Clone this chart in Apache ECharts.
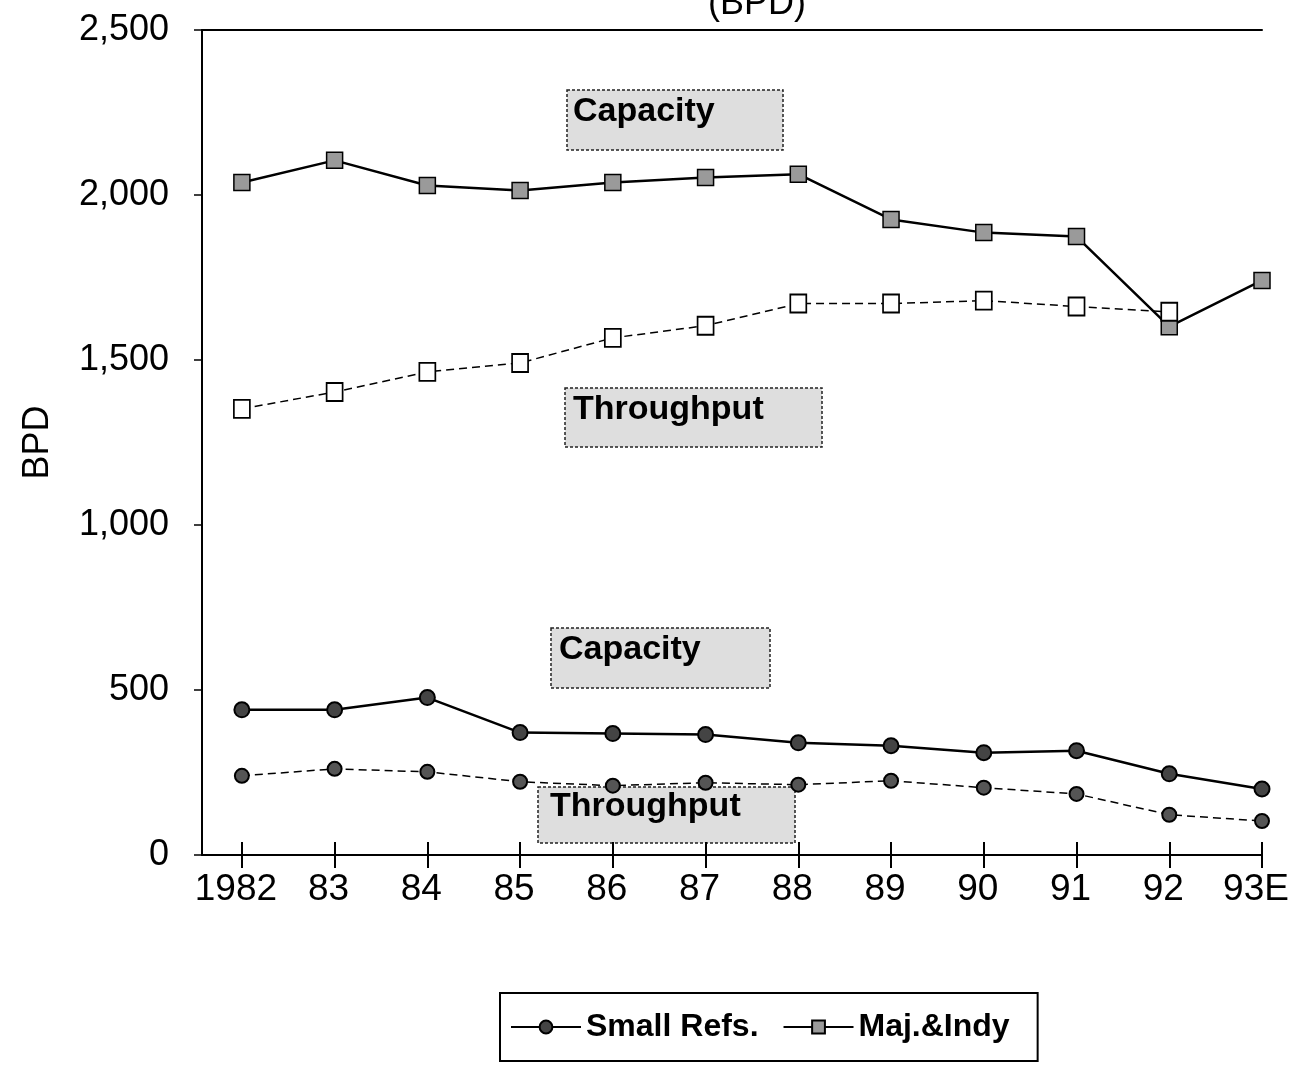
<!DOCTYPE html>
<html>
<head>
<meta charset="utf-8">
<script src="https://cdn.jsdelivr.net/npm/echarts@6/dist/echarts.min.js"></script>
<style>
html,body{margin:0;padding:0;background:#fff;}
#chart{width:1307px;height:1074px;}
</style>
</head>
<body>
<div id="chart"></div>
<script>
var categories = ['1982','83','84','85','86','87','88','89','90','91','92','93E'];
var yTicks = [0, 500, 1000, 1500, 2000, 2500];
var majCapacity   = [2038, 2105, 2029, 2014, 2038, 2053, 2063, 1926, 1886, 1874, 1601, 1741];
var majThroughput = [1352, 1403, 1464, 1491, 1567, 1604, 1671, 1671, 1680, 1662, 1646, null];
var smallCapacity   = [440, 440, 477, 371, 368, 365, 340, 331, 310, 316, 246, 200];
var smallThroughput = [240, 261, 252, 222, 210, 219, 213, 225, 204, 185, 122, 103];

function pts(arr){ return arr.map(function(v,i){ return [i, v]; }); }
var idx = categories.map(function(c,i){ return i; });
var FONT = '"Liberation Sans", Arial, sans-serif';

var chart = echarts.init(document.getElementById('chart'));

function labelBox(x, y, w, h, text, tx){
  return {
    type: 'group', x: x, y: y,
    children: [
      { type: 'rect', shape: {x:0, y:0, width:w, height:h},
        style: { fill: '#dedede', stroke: '#222', lineWidth: 1.5, lineDash: [3,2] } },
      { type: 'text', x: tx, y: h/2 - 8,
        style: { text: text, fill: '#000', font: 'bold 34px ' + FONT, textVerticalAlign: 'middle', textAlign: 'left' } }
    ]
  };
}

var option = {
  backgroundColor: '#fff',
  animation: false,
  grid: { left: 202, right: 45, top: 30, bottom: 219 },
  xAxis: [
    {
      type: 'value', position: 'bottom', min: -0.43, max: 11,
      axisLine: { show: true, onZero: false, lineStyle: { color: '#000', width: 2 } },
      axisTick: { show: true, customValues: idx, length: 13, lineStyle: { color: '#000', width: 2 } },
      axisLabel: { show: true, customValues: idx, margin: 16, color: '#000',
        fontFamily: FONT, fontSize: 37, padding: [0, 12, 0, 0],
        formatter: function(v){ return categories[Math.round(v)]; } },
      splitLine: { show: false }
    },
    {
      type: 'value', position: 'bottom', offset: 0, min: -0.43, max: 11,
      axisLine: { show: false, onZero: false },
      axisTick: { show: true, inside: true, customValues: idx, length: 13, lineStyle: { color: '#000', width: 2 } },
      axisLabel: { show: false },
      splitLine: { show: false }
    },
    {
      type: 'value', position: 'top', min: -0.43, max: 11,
      axisLine: { show: true, onZero: false, lineStyle: { color: '#000', width: 2 } },
      axisTick: { show: false },
      axisLabel: { show: false },
      splitLine: { show: false }
    }
  ],
  yAxis: {
    type: 'value', min: 0, max: 2500, interval: 500, position: 'left',
    name: 'BPD', nameLocation: 'middle', nameGap: 146, nameRotate: 90,
    nameTextStyle: { color: '#000', fontFamily: FONT, fontSize: 36 },
    axisLine: { show: true, onZero: false, lineStyle: { color: '#000', width: 2 } },
    axisTick: { show: true, length: 8, lineStyle: { color: '#000', width: 1.5 } },
    axisLabel: { color: '#000', fontFamily: FONT, fontSize: 36, margin: 33,
      formatter: function(v){ return String(v).replace(/\B(?=(\d{3})+(?!\d))/g, ','); } },
    splitLine: { show: false }
  },
  legend: {
    left: 500, top: 993,
    data: ['Small Refs.', 'Maj.&Indy'],
    itemWidth: 70, itemHeight: 16, itemGap: 24,
    padding: [18, 28, 18, 10],
    borderColor: '#000', borderWidth: 2,
    textStyle: { color: '#000', fontFamily: FONT, fontSize: 32, fontWeight: 'bold' }
  },
  graphic: [
    { type: 'text', x: 757, y: 22,
      style: { text: '(BPD)', fill: '#000', font: '36px ' + FONT, textAlign: 'center', textVerticalAlign: 'bottom' } },
    labelBox(567, 90, 216, 60, 'Capacity', 6),
    labelBox(565, 388, 257, 59, 'Throughput', 8),
    labelBox(551, 628, 219, 60, 'Capacity', 8),
    labelBox(538, 787, 257, 56, 'Throughput', 12)
  ],
  series: [
    {
      name: 'Small Refs.', type: 'line', xAxisIndex: 0, data: pts(smallCapacity),
      symbol: 'circle', symbolSize: 15,
      lineStyle: { color: '#000', width: 2.5 },
      itemStyle: { color: '#444', borderColor: '#000', borderWidth: 2 }
    },
    {
      name: 'Small Refs.', type: 'line', xAxisIndex: 0, data: pts(smallThroughput),
      symbol: 'circle', symbolSize: 14,
      lineStyle: { color: '#000', width: 1.5, type: [8, 5] },
      itemStyle: { color: '#555', borderColor: '#000', borderWidth: 2 }
    },
    {
      name: 'Maj.&Indy', type: 'line', xAxisIndex: 0, data: pts(majCapacity),
      symbol: 'rect', symbolSize: 16,
      lineStyle: { color: '#000', width: 2.5 },
      itemStyle: { color: '#9a9a9a', borderColor: '#000', borderWidth: 1.5 }
    },
    {
      name: 'Maj.&Indy', type: 'line', xAxisIndex: 0, data: pts(majThroughput),
      symbol: 'rect', symbolSize: [16, 18],
      lineStyle: { color: '#000', width: 1.5, type: [8, 5] },
      itemStyle: { color: '#fff', borderColor: '#000', borderWidth: 1.8 }
    }
  ]
};
chart.setOption(option);
</script>
</body>
</html>
